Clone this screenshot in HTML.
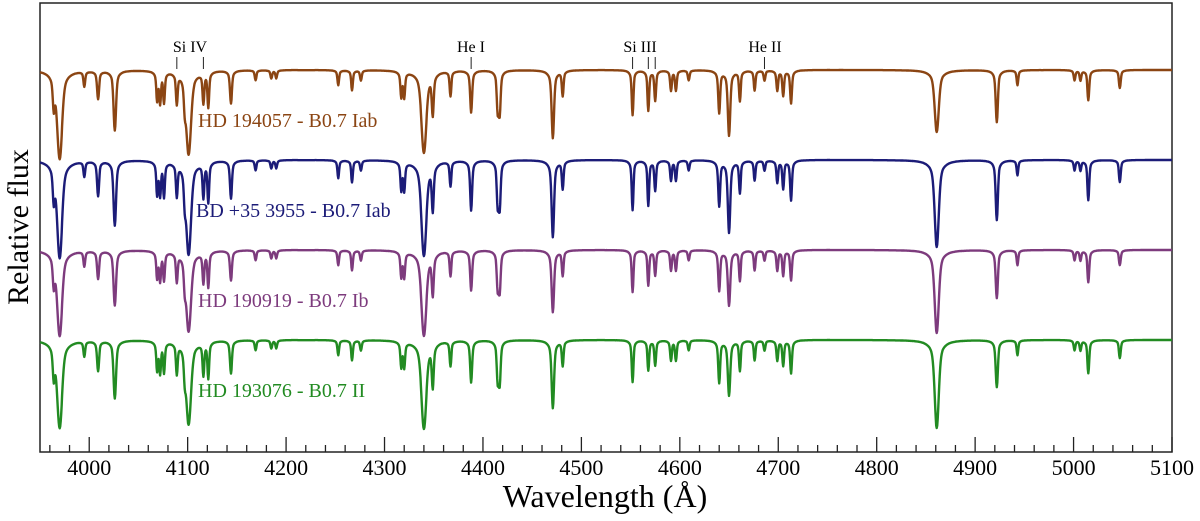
<!DOCTYPE html>
<html><head><meta charset="utf-8"><style>
body{margin:0;background:#fff;}
svg{display:block;font-family:"Liberation Serif",serif;}
</style></head><body>
<svg id="chart" width="1200" height="521" viewBox="0 0 1200 521">
<rect x="40" y="3" width="1132" height="449" fill="none" stroke="#222" stroke-width="1.5"/>
<g id="ticks"></g>
<g id="series"></g>
<g id="marks"></g>
<text x="28" y="227" font-size="30" text-anchor="middle" transform="rotate(-90 28 227)">Relative flux</text>
<text x="605" y="507" font-size="32" text-anchor="middle">Wavelength (Å)</text>
</svg>
<script>
const starNames = ["HD 194057 - B0.7 Iab","BD +35 3955 - B0.7 Iab","HD 190919 - B0.7 Ib","HD 193076 - B0.7 II"];
const starColors = ["#8b4513","#1c1c78","#7d3b7d","#228b22"];
const lineWave = [3964,3970,3995,4009,4026,4069,4072,4076,4089,4097,4101,4116,4121,4144,4169,4185,4190,4253,4267,4276,4317,4320,4340,4349,4367,4388,4415,4417,4471,4481,4552,4568,4575,4591,4596,4609,4640,4650,4661,4676,4686,4699,4705,4713,4861,4922,4943,5001,5007,5015,5047];
const lineWidth = [1.3,3.2,1.1,1.3,1.6,1.1,1.1,1.1,1.1,1.1,3.2,1.1,1.1,1.3,1.1,1.1,1.1,1.1,1.1,1.1,1.1,1.1,3.2,1.3,1.1,1.3,1.2,1.2,1.6,1.1,1.1,1.1,1.1,1.1,1.1,1.1,1.2,1.6,1.1,1.1,1.1,1.1,1.1,1.2,2.7,1.4,1.1,1.1,1.1,1.2,1.2];
const depthA = [30,88,15,28,60,28,30,30,30,20,83,30,35,33,10,8,8,15,20,10,25,25,82,40,25,42,38,40,68,25,45,40,30,20,20,10,42,65,30,20,10,20,25,33,62,52,15,10,10,30,18];
const depthB = [32,97,15,35,65,32,32,34,32,22,93,34,40,38,10,8,8,18,22,10,28,28,95,45,25,50,42,44,77,28,50,45,30,20,20,10,45,72,32,20,10,22,28,40,87,60,15,10,10,40,22];
const depthC = [28,85,15,28,55,26,28,28,28,20,80,30,35,30,10,8,8,15,20,10,25,25,85,40,25,40,36,38,62,25,42,35,25,20,20,10,40,55,30,20,10,20,25,30,83,48,15,10,10,32,15];
const depthD = [30,87,15,30,58,28,30,30,30,20,83,32,36,33,10,8,8,15,20,10,25,25,88,42,25,42,38,40,68,25,42,30,25,20,20,10,42,55,30,20,10,20,25,33,88,47,15,10,10,33,18];
const depths = [depthA,depthB,depthC,depthD];
const continuum = [70,160,250,340];
const xTicks = [4000,4100,4200,4300,4400,4500,4600,4700,4800,4900,5000,5100];
const markLines = [4089,4116,4388,4552,4568,4575,4686];
const markLabels = [["Si IV",190],["He I",471],["Si III",640],["He II",765]];

const X0=3950,X1=5100,PX0=40,PX1=1172;
const xs = w => PX0+(w-X0)/(X1-X0)*(PX1-PX0);
const NS="http://www.w3.org/2000/svg";
function el(t,a,p){const e=document.createElementNS(NS,t);for(const k in a)e.setAttribute(k,a[k]);p.appendChild(e);return e;}

const tg=document.getElementById('ticks');
for(let w=3960;w<=5100;w+=20){
  const major = w%100===0;
  const t=el('line',{x1:xs(w),x2:xs(w),y1:452,y2:major?437:445,stroke:'#222','stroke-width':1.3},tg);
  
  
}
xTicks.forEach(v=>{
  const t=el('text',{x:xs(v),y:475,'font-size':22,'text-anchor':'middle'},tg);
  t.textContent=v;
  
  
});

const sg=document.getElementById('series');
depths.forEach((dep,s)=>{
  let d='';
  for(let w=X0;w<=X1;w+=0.5){
    let a=0;
    for(let i=0;i<lineWave.length;i++){
      const dx=(w-lineWave[i])/lineWidth[i];
      if(Math.abs(dx)>40)continue;
      a+=dep[i]*(0.75*Math.exp(-dx*dx)+0.25/(1+dx*dx/4));
    }
    const y=continuum[s]+Math.min(a,100);
    d+=(d?'L':'M')+xs(w).toFixed(1)+','+y.toFixed(1);
  }
  const p=el('path',{d:d,fill:'none',stroke:starColors[s],'stroke-width':2.4,'stroke-linejoin':'round'},sg);
  
  
  const t=el('text',{x:s===1?196:198,y:continuum[s]+57,'font-size':20,fill:starColors[s]},sg);
  t.textContent=starNames[s];
  
  
});

const mg=document.getElementById('marks');
markLines.forEach(w=>{
  const l=el('line',{x1:xs(w),x2:xs(w),y1:57,y2:69,stroke:'#222','stroke-width':1},mg);
  
  
});
markLabels.forEach(m=>{
  const t=el('text',{x:m[1],y:52,'font-size':16,'text-anchor':'middle'},mg);
  t.textContent=m[0];
  
  
});
</script>
</body></html>
